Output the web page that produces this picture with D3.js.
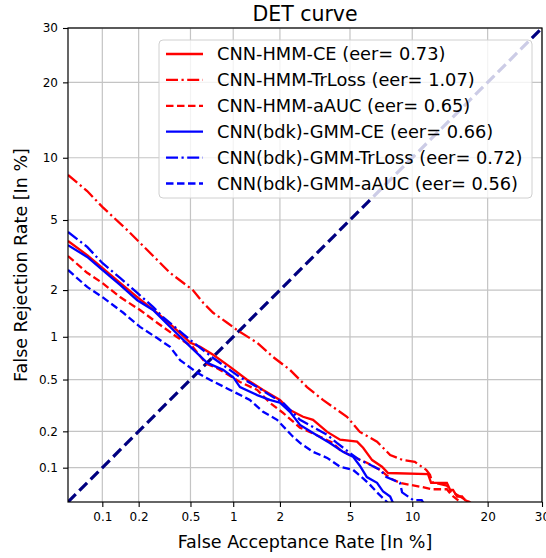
<!DOCTYPE html>
<html>
<head>
<meta charset="utf-8">
<script src="https://cdn.jsdelivr.net/npm/d3@7"></script>
<style>
  body { margin: 0; background: #fff; }
  text { font-family: "DejaVu Sans", sans-serif; }
</style>
</head>
<body>
<div id="chart"></div>
<script>
// tick values (in %) shared by both axes
const tickPct = [0.1, 0.2, 0.5, 1, 2, 5, 10, 20, 30];
const tickLabels = ["0.1", "0.2", "0.5", "1", "2", "5", "10", "20", "30"];

// CNN-HMM-CE
const hmmCeFar = [0.05, 0.074, 0.10, 0.141, 0.195, 0.28, 0.372, 0.50, 0.588, 0.727, 0.952, 1.236, 1.57, 2.00, 2.30, 2.75, 3.14, 3.77, 4.43, 5.44, 5.84, 6.48, 7.24, 7.74, 11.71, 12.07, 14.02, 14.45, 14.83, 15.39, 16.09, 16.51, 17.4];
const hmmCeFrr = [3.86, 3.22, 2.72, 2.21, 1.81, 1.44, 1.165, 0.91, 0.853, 0.752, 0.617, 0.498, 0.419, 0.352, 0.295, 0.261, 0.247, 0.198, 0.171, 0.165, 0.147, 0.116, 0.102, 0.090, 0.088, 0.074, 0.074, 0.064, 0.064, 0.056, 0.056, 0.052, 0.049];
// CNN-HMM-TrLoss
const hmmTrFar = [0.05, 0.074, 0.10, 0.161, 0.234, 0.352, 0.52, 0.62, 0.727, 0.91, 1.06, 1.44, 1.81, 2.30, 2.90, 3.57, 4.82, 5.62, 6.85, 7.92, 9.07, 10.27, 11.5, 11.94, 12.2, 14.02, 14.6, 15.8, 17.4];
const hmmTrFrr = [8.35, 7.0, 5.84, 4.43, 3.44, 2.54, 2.0, 1.66, 1.44, 1.24, 1.11, 0.91, 0.727, 0.588, 0.44, 0.352, 0.261, 0.198, 0.165, 0.128, 0.116, 0.112, 0.096, 0.087, 0.075, 0.070, 0.062, 0.056, 0.049];
// CNN-HMM-aAUC
const hmmAucFar = [0.05, 0.074, 0.10, 0.141, 0.205, 0.28, 0.397, 0.52, 0.65, 0.77, 1.11, 1.44, 1.73, 2.09, 2.64, 3.44, 4.06, 4.43, 5.18, 6.1, 7.08, 7.92, 8.80, 9.77, 11.0, 12.2, 14.02, 14.6, 15.5, 16.0];
const hmmAucFrr = [3.18, 2.54, 2.21, 1.81, 1.50, 1.24, 0.996, 0.853, 0.65, 0.607, 0.48, 0.419, 0.335, 0.28, 0.214, 0.181, 0.161, 0.141, 0.124, 0.110, 0.096, 0.081, 0.074, 0.071, 0.068, 0.065, 0.065, 0.058, 0.052, 0.049];
// CNN(bdk)-GMM-CE
const gmmCeFar = [0.05, 0.074, 0.10, 0.141, 0.195, 0.26, 0.372, 0.50, 0.66, 0.853, 1.0, 1.11, 1.44, 1.73, 2.0, 2.30, 2.64, 3.14, 3.90, 4.59, 5.18, 5.62, 6.1, 6.85, 7.33, 7.92, 8.17];
const gmmCeFrr = [3.66, 3.14, 2.64, 2.15, 1.73, 1.50, 1.11, 0.853, 0.66, 0.588, 0.52, 0.44, 0.383, 0.352, 0.335, 0.285, 0.225, 0.194, 0.161, 0.136, 0.124, 0.104, 0.083, 0.074, 0.062, 0.056, 0.049];
// CNN(bdk)-GMM-TrLoss
const gmmTrFar = [0.05, 0.074, 0.10, 0.141, 0.195, 0.26, 0.311, 0.50, 0.72, 1.11, 1.44, 1.73, 2.09, 2.64, 3.14, 3.77, 4.26, 5.0, 5.62, 6.33, 7.08, 7.6, 8.80, 9.0, 10.1, 11.0, 11.2];
const gmmTrFrr = [4.32, 3.58, 2.90, 2.37, 1.92, 1.57, 1.35, 0.95, 0.72, 0.52, 0.44, 0.383, 0.335, 0.247, 0.217, 0.187, 0.161, 0.133, 0.116, 0.106, 0.096, 0.083, 0.074, 0.061, 0.052, 0.052, 0.049];
// CNN(bdk)-GMM-aAUC
const gmmAucFar = [0.05, 0.074, 0.10, 0.15, 0.205, 0.28, 0.352, 0.419, 0.56, 0.69, 0.952, 1.29, 1.57, 1.92, 2.40, 2.64, 3.14, 3.77, 4.43, 5.18, 5.84, 6.33, 6.85, 7.33, 7.74];
const gmmAucFrr = [2.64, 2.09, 1.81, 1.44, 1.165, 0.98, 0.853, 0.69, 0.56, 0.498, 0.419, 0.352, 0.285, 0.247, 0.181, 0.161, 0.136, 0.121, 0.102, 0.096, 0.081, 0.071, 0.061, 0.054, 0.049];

const seriesNames = ["CNN-HMM-CE (eer= 0.73)", "CNN-HMM-TrLoss (eer= 1.07)", "CNN-HMM-aAUC (eer= 0.65)",
    "CNN(bdk)-GMM-CE (eer= 0.66)", "CNN(bdk)-GMM-TrLoss (eer= 0.72)", "CNN(bdk)-GMM-aAUC (eer= 0.56)"];
const seriesFar = [hmmCeFar, hmmTrFar, hmmAucFar, gmmCeFar, gmmTrFar, gmmAucFar];
const seriesFrr = [hmmCeFrr, hmmTrFrr, hmmAucFrr, gmmCeFrr, gmmTrFrr, gmmAucFrr];
const seriesColor = ["#ff0000", "#ff0000", "#ff0000", "#0000ff", "#0000ff", "#0000ff"];
const seriesDash = [null, "12,3.5,2.2,3.5", "7.5,3.5", null, "12,3.5,2.2,3.5", "7.5,3.5"];

// inverse normal cdf (Acklam)
function probit(p) {
    const a = [-3.969683028665376e+01, 2.209460984245205e+02, -2.759285104469687e+02, 1.383577518672690e+02, -3.066479806614716e+01, 2.506628277459239e+00];
    const b = [-5.447609879822406e+01, 1.615858368580409e+02, -1.556989798598866e+02, 6.680131188771972e+01, -1.328068155288572e+01];
    const c = [-7.784894002430293e-03, -3.223964580411365e-01, -2.400758277161838e+00, -2.549732539343734e+00, 4.374664141464968e+00, 2.938163982698783e+00];
    const d = [7.784695709041462e-03, 3.224671290700398e-01, 2.445134137142996e+00, 3.754408661907416e+00];
    const pl = 0.02425;
    if (p < pl) {
        const q = Math.sqrt(-2 * Math.log(p));
        return (((((c[0] * q + c[1]) * q + c[2]) * q + c[3]) * q + c[4]) * q + c[5]) / ((((d[0] * q + d[1]) * q + d[2]) * q + d[3]) * q + 1);
    }
    if (p > 1 - pl) {
        const q = Math.sqrt(-2 * Math.log(1 - p));
        return -(((((c[0] * q + c[1]) * q + c[2]) * q + c[3]) * q + c[4]) * q + c[5]) / ((((d[0] * q + d[1]) * q + d[2]) * q + d[3]) * q + 1);
    }
    const q = p - 0.5, r = q * q;
    return (((((a[0] * r + a[1]) * r + a[2]) * r + a[3]) * r + a[4]) * r + a[5]) * q / (((((b[0] * r + b[1]) * r + b[2]) * r + b[3]) * r + b[4]) * r + 1);
}

// set the dimensions and margins of the graph
const margin = { top: 28, right: 4, bottom: 56, left: 68 },
    width = 546 - margin.left - margin.right,
    height = 558 - margin.top - margin.bottom;

const svgRoot = d3.select("#chart")
    .append("svg")
    .attr("width", 546)
    .attr("height", 558);

const svg = svgRoot.append("g")
    .attr("transform", `translate(${margin.left},${margin.top})`);

const lo = probit(0.0005), hi = probit(0.30);
const x = d3.scaleLinear().domain([lo, hi]).range([0, width]);
const y = d3.scaleLinear().domain([lo, hi]).range([height, 0]);
const px = v => x(probit(v / 100));
const py = v => y(probit(v / 100));

// grid
svg.append("g")
    .selectAll("line.vg")
    .data(tickPct)
    .join("line")
    .attr("x1", d => px(d)).attr("x2", d => px(d))
    .attr("y1", 0).attr("y2", height)
    .attr("stroke", "#c4c4c4").attr("stroke-width", 1.2);
svg.append("g")
    .selectAll("line.hg")
    .data(tickPct)
    .join("line")
    .attr("y1", d => py(d)).attr("y2", d => py(d))
    .attr("x1", 0).attr("x2", width)
    .attr("stroke", "#c4c4c4").attr("stroke-width", 1.2);

svg.append("clipPath").attr("id", "clip")
    .append("rect").attr("width", width).attr("height", height);

const plot = svg.append("g").attr("clip-path", "url(#clip)");

// diagonal
plot.append("line")
    .attr("x1", px(0.05)).attr("y1", py(0.05))
    .attr("x2", px(30)).attr("y2", py(30))
    .attr("stroke", "#000080")
    .attr("stroke-width", 3.2)
    .attr("stroke-dasharray", "11,5");

const line = d3.line().x(d => px(d[0])).y(d => py(d[1]));

seriesNames.forEach((name, i) => {
    const pts = seriesFar[i].map((f, j) => [f, seriesFrr[i][j]]);
    plot.append("path")
        .datum(pts)
        .attr("fill", "none")
        .attr("stroke", seriesColor[i])
        .attr("stroke-width", 2.3)
        .attr("stroke-dasharray", seriesDash[i])
        .attr("d", line);
});

// axes
const xAxis = svg.append("g")
    .attr("transform", `translate(0,${height})`)
    .call(d3.axisBottom(x)
        .tickValues(tickPct.map(t => probit(t / 100)))
        .tickFormat((d, i) => tickLabels[i])
        .tickSize(5).tickPadding(5));
const yAxis = svg.append("g")
    .call(d3.axisLeft(y)
        .tickValues(tickPct.map(t => probit(t / 100)))
        .tickFormat((d, i) => tickLabels[i])
        .tickSize(5).tickPadding(5));
[xAxis, yAxis].forEach(a => {
    a.select(".domain").remove();
    a.selectAll("text").attr("font-size", 12).attr("font-family", "DejaVu Sans").attr("fill", "#000");
    a.selectAll("line").attr("stroke", "#000").attr("stroke-width", 1.1);
});

// frame
svg.append("rect")
    .attr("width", width).attr("height", height)
    .attr("fill", "none").attr("stroke", "#000").attr("stroke-width", 1.2);

// legend
const leg = svg.append("g").attr("transform", "translate(91,12)");
leg.append("rect")
    .attr("width", 373).attr("height", 158)
    .attr("rx", 4)
    .attr("fill", "#fff").attr("fill-opacity", 0.8)
    .attr("stroke", "#d0d0d0");
seriesNames.forEach((name, i) => {
    const yy = 14 + i * 25.9;
    leg.append("line")
        .attr("x1", 7).attr("x2", 44)
        .attr("y1", yy).attr("y2", yy)
        .attr("stroke", seriesColor[i])
        .attr("stroke-width", 2.3)
        .attr("stroke-dasharray", seriesDash[i]);
    leg.append("text")
        .attr("x", 58).attr("y", yy)
        .attr("dy", "0.35em")
        .attr("font-size", 17.8)
        .text(name);
});

// titles
svgRoot.append("text")
    .attr("x", margin.left + width / 2).attr("y", 21)
    .attr("text-anchor", "middle")
    .attr("font-size", 20.5)
    .text("DET curve");
svgRoot.append("text")
    .attr("x", margin.left + width / 2).attr("y", 548)
    .attr("text-anchor", "middle")
    .attr("font-size", 17.5)
    .text("False Acceptance Rate [In %]");
svgRoot.append("text")
    .attr("transform", `translate(27,${margin.top + height / 2}) rotate(-90)`)
    .attr("text-anchor", "middle")
    .attr("font-size", 17.5)
    .text("False Rejection Rate [In %]");
</script>
</body>
</html>
